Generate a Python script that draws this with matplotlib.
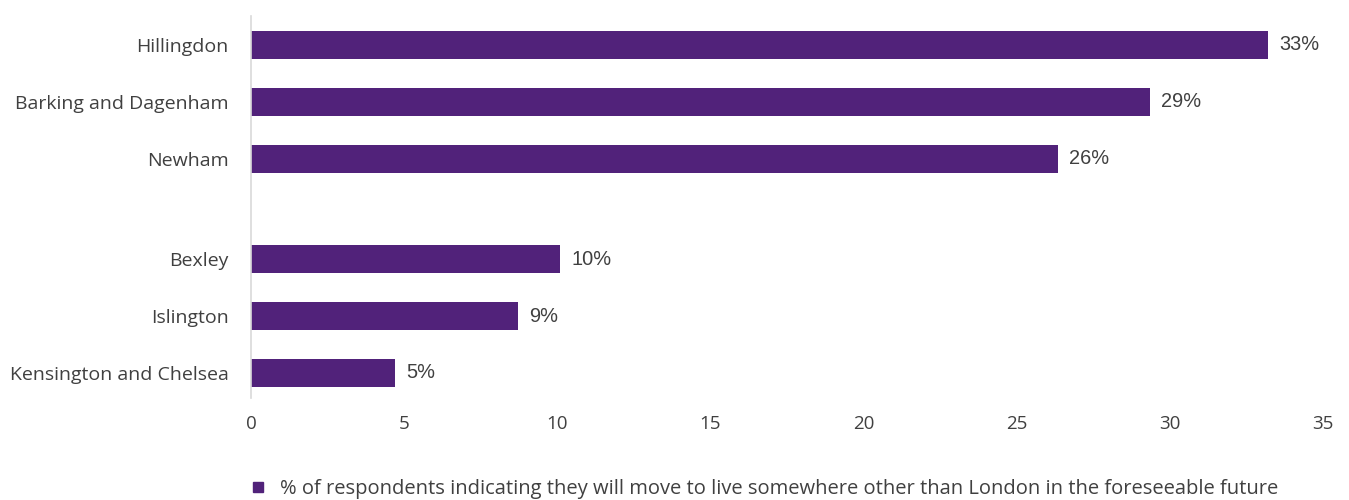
import matplotlib
matplotlib.use("Agg")
import matplotlib.pyplot as plt
from matplotlib.lines import Line2D

categories = ["Hillingdon", "Barking and Dagenham", "Newham",
              "Bexley", "Islington", "Kensington and Chelsea"]
values = [33.2, 29.35, 26.35, 10.1, 8.72, 4.7]
xticks = [0, 5, 10, 15, 20, 25, 30, 35]
legend_label = ("% of respondents indicating they will move to live somewhere "
                "other than London in the foreseeable future")

BAR = "#51227A"
TXT = "#404040"
plt.rcParams["font.family"] = ["Open Sans", "DejaVu Sans"]

fig = plt.figure(figsize=(13.49, 5.0), dpi=100)
ax = fig.add_axes([251 / 1349, 1 - 398 / 500, (1323 - 251) / 1349, (398 - 16) / 500])

# positions: two groups with extra gap between them
gap = 0.77
ypos = []
for i in range(len(categories)):
    ypos.append(i + (gap if i >= 3 else 0))

ax.barh(ypos, values, height=0.49, color=BAR)
ax.set_ylim(ypos[-1] + 0.44, -0.51)
ax.set_xlim(0, 35)
ax.set_yticks(ypos)
ax.set_yticklabels(categories, fontsize=14, color=TXT)
ax.set_xticks(xticks)
ax.set_xticklabels([str(t) for t in xticks], fontsize=13.5, color=TXT)
ax.tick_params(axis="both", length=0)
ax.tick_params(axis="y", pad=16)
ax.tick_params(axis="x", pad=12)
for s in ["top", "right", "bottom"]:
    ax.spines[s].set_visible(False)
ax.spines["left"].set_color("#d9d9d9")
ax.spines["left"].set_linewidth(1.2)

for y, v in zip(ypos, values):
    ax.text(v + 0.37, y, f"{round(v)}%", va="center", ha="left",
            fontsize=14.4, color=TXT, family=["Liberation Sans", "DejaVu Sans"])

handle = Line2D([], [], marker="s", linestyle="none", color=BAR, markersize=7)
fig.legend([handle], [legend_label], loc="center left",
           bbox_to_anchor=(240 / 1349, 1 - 489 / 500), frameon=False,
           fontsize=14.5, labelcolor=TXT, handletextpad=0.6, handlelength=1.0,
           borderaxespad=0)

fig.savefig("out.png", dpi=100)
